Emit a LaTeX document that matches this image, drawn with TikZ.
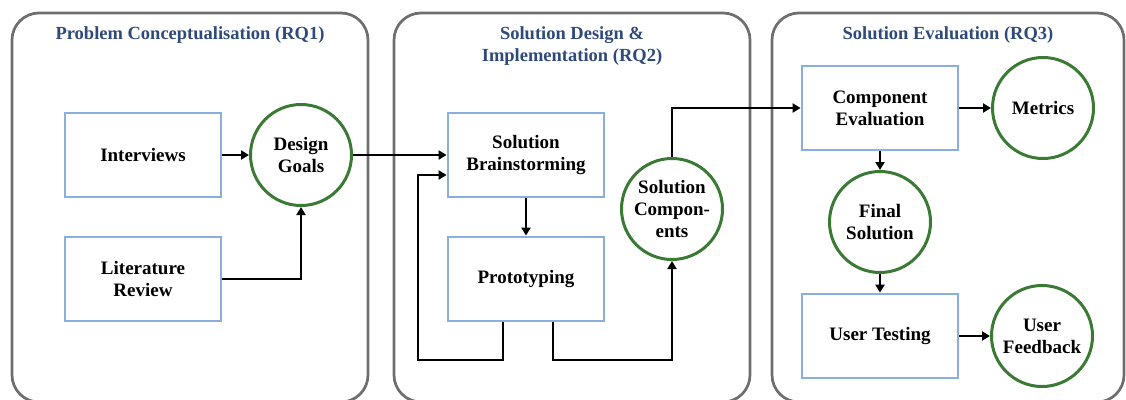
\documentclass[tikz,border=0pt]{standalone}
\usepackage{fontspec}
\setmainfont{Liberation Serif}
\usetikzlibrary{arrows.meta}
\definecolor{panelgray}{HTML}{6E6E6E}
\definecolor{titleblue}{HTML}{2E4A7B}
\definecolor{boxblue}{HTML}{8AAEE0}
\definecolor{goalgreen}{HTML}{3A7A35}
\tikzset{
  panel/.style={draw=panelgray, line width=2.7pt, rounded corners=27pt},
  paneltitle/.style={text=titleblue, font=\bfseries\fontsize{18.5}{22}\selectfont, align=center},
  stepbox/.style={draw=boxblue, line width=2.8pt, minimum width=156pt, minimum height=84pt,
    inner sep=0pt, align=center, font=\bfseries\fontsize{19}{22}\selectfont},
  outcome/.style={circle, draw=goalgreen, line width=3pt, minimum size=101pt,
    inner sep=0pt, align=center, font=\bfseries\fontsize{19}{22}\selectfont},
  arr/.style={line width=2pt, -{Triangle[length=8pt,width=9pt]}},
}
\begin{document}
\begin{tikzpicture}[x=1pt,y=-1pt]
\useasboundingbox (0,0) rectangle (1126,399);
\clip (0,0) rectangle (1126,399);

% three phase panels
\draw[panel] (12,13) rectangle (368,402);
\draw[panel] (394,13) rectangle (750,402);
\draw[panel] (772,13) rectangle (1124,402);

\node[paneltitle] (t1) at (190,35) {Problem Conceptualisation (RQ1)};
\node[paneltitle] (t2) at (572,46) {Solution Design \&\\Implementation (RQ2)};
\node[paneltitle] (t3) at (948,35) {Solution Evaluation (RQ3)};

% RQ1
\node[stepbox] (int) at (143,155) {Interviews};
\node[stepbox] (lit) at (143,279) {Literature\\Review};
\node[outcome] (dg) at (301,155) {Design\\Goals};

% RQ2
\node[stepbox] (sb) at (526,155) {Solution\\Brainstorming};
\node[stepbox] (proto) at (526,279) {Prototyping};
\node[outcome] (sc) at (672,209) {Solution\\Compon-\\ents};

% RQ3
\node[stepbox] (ce) at (880,108) {Component\\Evaluation};
\node[outcome] (met) at (1043,108) {Metrics};
\node[outcome] (fs) at (880,222) {Final\\Solution};
\node[stepbox] (ut) at (880,336) {User Testing};
\node[outcome] (uf) at (1042,336) {User\\Feedback};

\coordinate (loopL) at (418,360);
\coordinate (loopR) at (672,360);

% connectors
\draw[arr] (int.east) -- (dg.west);
\draw[arr] (lit.east) -| (dg.south);
\draw[arr] (dg.east) -- (sb.west);
\draw[arr] (sb.south) -- (proto.north);
\draw[arr] ([xshift=-23pt]proto.south) |- (loopL) |- ([yshift=-20pt]sb.west);
\draw[arr] ([xshift=27pt]proto.south) |- (loopR) -- (sc.south);
\draw[arr] (sc.north) |- (ce.west);
\draw[arr] (ce.east) -- (met.west);
\draw[arr] (ce.south) -- (fs.north);
\draw[arr] (fs.south) -- (ut.north);
\draw[arr] (ut.east) -- (uf.west);
\end{tikzpicture}
\end{document}
